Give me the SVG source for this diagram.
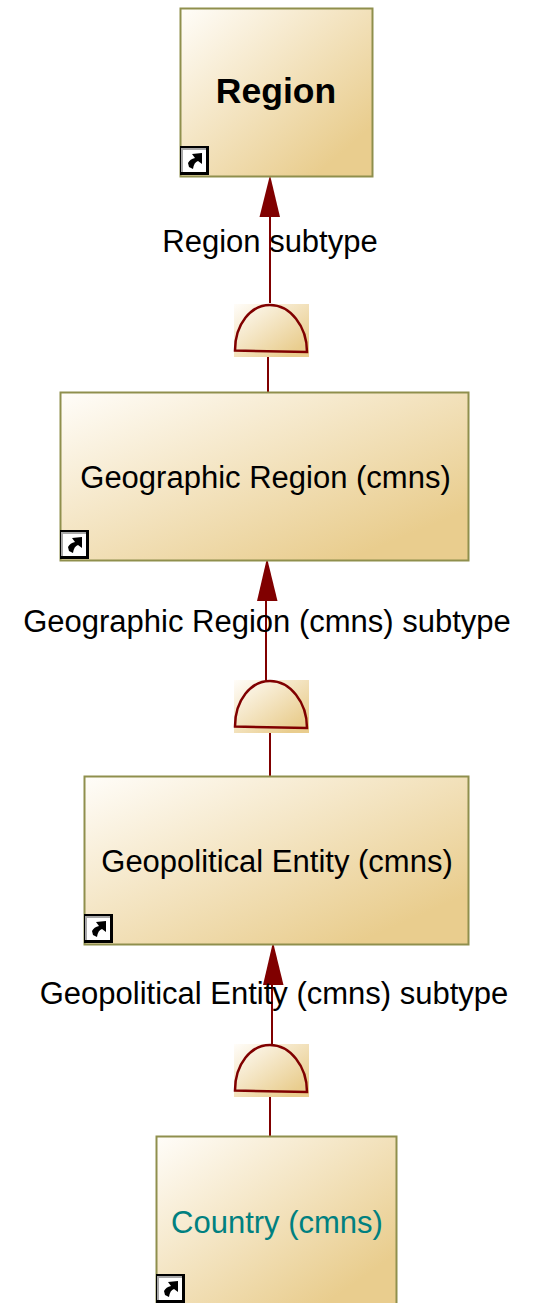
<svg xmlns="http://www.w3.org/2000/svg" width="539" height="1303" viewBox="0 0 539 1303">
<defs>
<linearGradient id="g" x1="0" y1="0" x2="1" y2="1"><stop offset="0" stop-color="#fffdf9"/><stop offset="0.85" stop-color="#e9cd8e"/><stop offset="1" stop-color="#e9cd8e"/></linearGradient>
<g id="shortcut"><rect x="0" y="0" width="29" height="29" fill="#000"/><rect x="1" y="2" width="25" height="24" fill="#fff"/><path d="M1 2H26V4H3V26H1Z" fill="#a8a8a8"/><path d="M9 21 L8 17 Q10 13 15 12 L12 8 L22 7 L22 18 L18 15 Q14 16 13 23 Z" fill="#000"/></g>
<g id="gate"><rect x="0" y="0" width="75" height="53" fill="url(#g)"/><path class="g" d="M1 46.500 C1 20 17 1 36 1 C56 1 73 22 73 48 Z"/></g>
</defs>
<style>
.n{fill:url(#g);stroke:#8f8f4d;stroke-width:2}
.t{font-family:"Liberation Sans",Arial,sans-serif;font-size:31px;fill:#000;text-anchor:middle}
.l{font-family:"Liberation Sans",Arial,sans-serif;font-size:31px;fill:#000;text-anchor:middle}
.c{stroke:#800000;stroke-width:2;fill:none}
.a{fill:#800000}
.g{fill:none;stroke:#800000;stroke-width:2.500}
</style>
<g id="connectors">
<path class="c" d="M270 303V200M268 357V392"/><path class="a" d="M270 175L259.500 217H280Z"/>
<path class="c" d="M266 680V584M270 733V776"/><path class="a" d="M267 558L257 601H277.500Z"/>
<path class="c" d="M272 1044V968M270 1097V1136"/><path class="a" d="M273 942L263 985H283.500Z"/>
</g>
<g id="gate1"><use href="#gate" x="234" y="304"/></g>
<g id="gate2"><use href="#gate" x="234" y="680"/></g>
<g id="gate3"><use href="#gate" x="234" y="1044"/></g>
<g id="label1"><text class="l" x="270" y="252">Region subtype</text></g>
<g id="label2"><text class="l" x="267" y="632">Geographic Region (cmns) subtype</text></g>
<g id="label3"><text class="l" x="274" y="1004">Geopolitical Entity (cmns) subtype</text></g>
<g id="region"><rect class="n" x="180.500" y="8.500" width="192" height="168"/><text class="t" x="276" y="103" font-weight="bold" style="font-size:35.500px">Region</text><use href="#shortcut" x="180" y="146"/></g>
<g id="geographic"><rect class="n" x="60.500" y="392.500" width="408" height="168"/><text class="t" x="265.500" y="488">Geographic Region (cmns)</text><use href="#shortcut" x="60" y="530"/></g>
<g id="geopolitical"><rect class="n" x="84.500" y="776.500" width="384" height="168"/><text class="t" x="277" y="872">Geopolitical Entity (cmns)</text><use href="#shortcut" x="84" y="914"/></g>
<g id="country"><rect class="n" x="156.500" y="1136.500" width="240" height="168"/><text class="t" x="277" y="1233" style="fill:#008080">Country (cmns)</text><use href="#shortcut" x="156" y="1274"/></g>
</svg>
